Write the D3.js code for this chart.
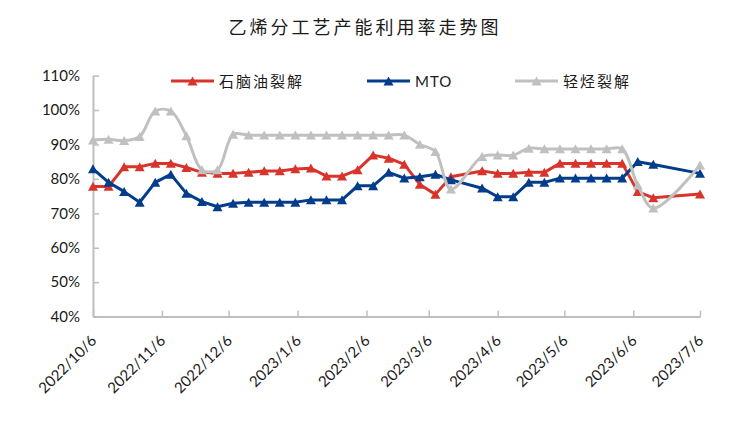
<!DOCTYPE html>
<html>
<head>
<meta charset="utf-8">
<script src="https://cdn.jsdelivr.net/npm/d3@7"></script>
<style>
  body { margin: 0; background: #fff; }
  text { font-family: Lato, "Noto Sans CJK SC", sans-serif; fill: #1a1a1a; }
</style>
</head>
<body>
<main></main>
<script>
const dates = ["2022/10/6","2022/10/13","2022/10/20","2022/10/27",
  "2022/11/3","2022/11/10","2022/11/17","2022/11/24",
  "2022/12/1","2022/12/8","2022/12/15","2022/12/22","2022/12/29",
  "2023/1/5","2023/1/12","2023/1/19","2023/1/26",
  "2023/2/2","2023/2/9","2023/2/16","2023/2/23",
  "2023/3/2","2023/3/9","2023/3/16","2023/3/30",
  "2023/4/6","2023/4/13","2023/4/20","2023/4/27",
  "2023/5/4","2023/5/11","2023/5/18","2023/5/25",
  "2023/6/1","2023/6/8","2023/6/15","2023/7/6"];

const naphtha = [77.8,77.8,83.5,83.5, 84.5,84.5,83.3,81.9, 81.6,81.6,81.9,82.3,82.3,
  82.9,83.1,80.8,80.8, 82.6,86.9,86.0,84.2, 78.4,75.5,80.6,82.3,
  81.6,81.6,81.9,81.9, 84.5,84.5,84.5,84.5, 84.5,76.3,74.5,75.6];

const mto = [82.9,79.0,76.3,73.2, 79.0,81.3,75.8,73.4, 71.9,72.9,73.2,73.2,73.2,
  73.2,73.9,73.9,73.9, 78.0,78.0,81.9,80.2, 80.6,81.3,79.7,77.3,
  74.8,74.8,79.0,79.0, 80.2,80.2,80.2,80.2, 80.2,85.0,84.2,81.6];

const lightHc = [91.3,91.5,91.1,92.3, 99.7,99.7,92.5,82.6, 82.6,92.9,92.7,92.7,92.7,
  92.7,92.7,92.7,92.7, 92.7,92.7,92.7,92.7, 90.0,87.9,77.0,86.5,
  86.9,86.9,88.9,88.7, 88.7,88.7,88.7,88.7, 88.7,78.2,71.5,84.0];

const seriesNames = ["石脑油裂解", "MTO", "轻烃裂解"];
const xTickLabels = ["2022/10/6","2022/11/6","2022/12/6","2023/1/6","2023/2/6",
  "2023/3/6","2023/4/6","2023/5/6","2023/6/6","2023/7/6"];
const yTicks = [40, 50, 60, 70, 80, 90, 100, 110];

(function(){

  const w = 730,
    h = 426,
    left = 93,
    right = 700,
    top = 75.6,
    bottom = 316.6,
    colors = ["#d9342b", "#023d8c", "#c0c0c0"],
    axisColor = "#bfbfbf";

  const parse = d3.timeParse("%Y/%m/%d");

  const svg = d3.select("main")
    .append("svg")
    .attr("width", w)
    .attr("height", h);

  // SCALES
  const xScale = d3.scaleTime()
    .domain([parse(xTickLabels[0]), parse(xTickLabels[xTickLabels.length - 1])])
    .range([left, right]);

  const yScale = d3.scaleLinear()
    .domain([40, 110])
    .range([bottom, top]);

  // TITLE
  svg.append("text")
    .attr("x", 365)
    .attr("y", 34)
    .attr("text-anchor", "middle")
    .style("font-family", "'Noto Sans CJK SC', sans-serif")
    .style("font-size", "18px")
    .style("letter-spacing", "3px")
    .text("乙烯分工艺产能利用率走势图");

  // X AXIS
  const xAxis = d3.axisBottom(xScale)
    .tickValues(xTickLabels.map(parse))
    .tickFormat((d, i) => xTickLabels[i])
    .tickSizeInner(-6)
    .tickSizeOuter(0);

  const gx = svg.append("g")
    .attr("transform", "translate(0," + bottom + ")")
    .call(xAxis);

  gx.select(".domain").attr("stroke", axisColor).attr("stroke-width", 2);
  gx.selectAll(".tick line").attr("stroke", axisColor).attr("stroke-width", 1.5);
  gx.selectAll(".tick text")
    .attr("x", 0)
    .attr("y", 0)
    .attr("dy", 0)
    .attr("text-anchor", "end")
    .attr("transform", "translate(4,25) rotate(-45)")
    .style("font-size", "15px");

  // Y AXIS
  const yAxis = d3.axisLeft(yScale)
    .tickValues(yTicks)
    .tickFormat(d => d + "%")
    .tickSizeInner(-6)
    .tickSizeOuter(0)
    .tickPadding(13);

  const gy = svg.append("g")
    .attr("transform", "translate(" + left + ",0)")
    .call(yAxis);

  gy.select(".domain").attr("stroke", axisColor).attr("stroke-width", 2);
  gy.selectAll(".tick line").attr("stroke", axisColor).attr("stroke-width", 1.5);
  gy.selectAll(".tick text").style("font-size", "15px");

  // SERIES
  const allSeries = [naphtha, mto, lightHc];
  const curves = [d3.curveLinear, d3.curveLinear, d3.curveCatmullRom];
  const tri = "M0,-4.6L5,4.4L-5,4.4Z";

  allSeries.forEach((vals, k) => {
    const pts = vals.map((v, i) => [xScale(parse(dates[i])), yScale(v)]);

    svg.append("path")
      .datum(pts)
      .attr("fill", "none")
      .attr("stroke", colors[k])
      .attr("stroke-width", 3)
      .attr("stroke-linejoin", "round")
      .attr("d", d3.line().curve(curves[k]));

    svg.append("g")
      .selectAll("path")
      .data(pts)
      .join("path")
      .attr("d", tri)
      .attr("fill", colors[k])
      .attr("transform", d => "translate(" + d[0] + "," + d[1] + ")");
  });

  // LEGEND
  const legendX = [171, 367, 515];
  const legend = svg.append("g");
  seriesNames.forEach((name, k) => {
    const g = legend.append("g").attr("transform", "translate(" + legendX[k] + ",81)");
    g.append("line")
      .attr("x1", 0).attr("x2", 43)
      .attr("stroke", colors[k])
      .attr("stroke-width", 3);
    g.append("path")
      .attr("d", tri)
      .attr("fill", colors[k])
      .attr("transform", "translate(21.5,0)");
    g.append("text")
      .attr("x", 48)
      .attr("y", 6)
      .style("font-family", k === 1 ? "Lato, sans-serif" : "'Noto Sans CJK SC', sans-serif")
      .style("font-size", "15px")
      .style("letter-spacing", k === 1 ? "1px" : "2px")
      .text(name);
  });

})();
</script>
</body>
</html>
